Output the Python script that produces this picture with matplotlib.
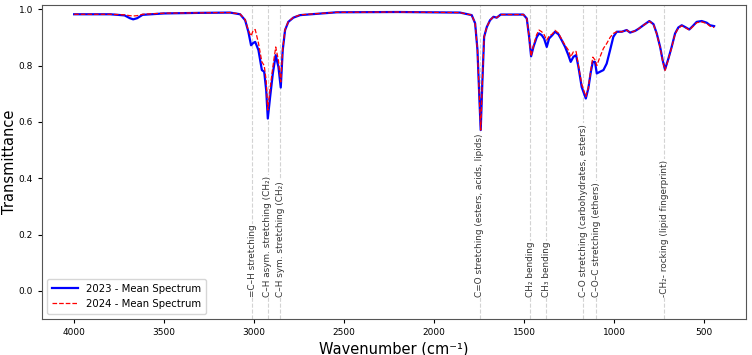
import matplotlib.pyplot as plt

# wavenumber grid (cm-1) and mean transmittance for each year
wavenumber = [4000, 3800, 3720, 3690, 3672, 3650, 3620, 3500, 3300, 3133, 3078, 3050,
              3032, 3017, 3005, 2994, 2976, 2957, 2944, 2933, 2924, 2911, 2896, 2880,
              2865, 2852, 2841, 2828, 2810, 2782, 2744, 2541, 2200, 1856, 1791, 1772,
              1759, 1748, 1741, 1732, 1722, 1707, 1689, 1670, 1652, 1630, 1504, 1485,
              1472, 1461, 1448, 1430, 1417, 1402, 1389, 1374, 1361, 1343, 1328, 1309,
              1291, 1272, 1254, 1241, 1226, 1211, 1198, 1180, 1157, 1143, 1129, 1118,
              1106, 1096, 1078, 1059, 1041, 1022, 1004, 985, 957, 930, 911, 883, 865,
              837, 804, 781, 763, 744, 730, 717, 698, 680, 661, 643, 624, 606, 582,
              563, 541, 513, 485, 467, 444]

t_2023 = [0.982, 0.982, 0.978, 0.968, 0.964, 0.968, 0.980, 0.985, 0.987, 0.988, 0.982, 0.961,
          0.920, 0.872, 0.880, 0.884, 0.855, 0.784, 0.778, 0.713, 0.612, 0.689, 0.772, 0.837,
          0.795, 0.722, 0.855, 0.926, 0.955, 0.970, 0.979, 0.989, 0.990, 0.988, 0.979, 0.950,
          0.855, 0.677, 0.571, 0.738, 0.902, 0.937, 0.961, 0.973, 0.970, 0.981, 0.981, 0.967,
          0.902, 0.833, 0.866, 0.900, 0.914, 0.908, 0.896, 0.866, 0.896, 0.908, 0.920, 0.911,
          0.890, 0.866, 0.837, 0.813, 0.831, 0.837, 0.795, 0.724, 0.683, 0.719, 0.778, 0.813,
          0.813, 0.772, 0.778, 0.784, 0.807, 0.855, 0.902, 0.920, 0.920, 0.926, 0.917, 0.923, 0.930,
          0.943, 0.958, 0.947, 0.914, 0.866, 0.819, 0.786, 0.825, 0.866, 0.914, 0.935, 0.943, 0.937, 0.928,
          0.940, 0.955, 0.958, 0.952, 0.943, 0.940]

t_2024 = [0.982, 0.982, 0.980, 0.977, 0.976, 0.977, 0.982, 0.986, 0.987, 0.988, 0.983, 0.963,
          0.925, 0.905, 0.925, 0.928, 0.880, 0.813, 0.800, 0.748, 0.642, 0.720, 0.795, 0.866,
          0.819, 0.742, 0.860, 0.928, 0.956, 0.971, 0.980, 0.989, 0.990, 0.988, 0.979, 0.950,
          0.855, 0.677, 0.571, 0.738, 0.902, 0.937, 0.961, 0.973, 0.970, 0.981, 0.981, 0.967,
          0.902, 0.833, 0.870, 0.910, 0.926, 0.920, 0.910, 0.890, 0.905, 0.912, 0.925, 0.915,
          0.893, 0.872, 0.855, 0.830, 0.849, 0.850, 0.800, 0.735, 0.690, 0.722, 0.785, 0.830,
          0.820, 0.800, 0.831, 0.861, 0.878, 0.900, 0.914, 0.920, 0.920, 0.926, 0.917, 0.923, 0.930,
          0.943, 0.957, 0.946, 0.912, 0.864, 0.816, 0.783, 0.822, 0.864, 0.912, 0.933, 0.941, 0.935, 0.926,
          0.938, 0.952, 0.955, 0.949, 0.940, 0.935]

band_pos = [3010, 2925, 2855, 1745, 1465, 1377, 1170, 1100, 720]
band_labels = ["=C–H stretching",
               "C–H asym. stretching (CH₂)",
               "C–H sym. stretching (CH₂)",
               "C=O stretching (esters, acids, lipids)",
               "CH₂ bending",
               "CH₃ bending",
               "C–O stretching (carbohydrates, esters)",
               "C–O–C stretching (ethers)",
               "-CH₂- rocking (lipid fingerprint)"]

fig = plt.figure(figsize=(7.52, 3.55), dpi=100)
ax = fig.add_axes([0.056, 0.101, 0.936, 0.885])

ax.plot(wavenumber, t_2023, color='blue', lw=1.6, label='2023 - Mean Spectrum')
ax.plot(wavenumber, t_2024, color='red', lw=0.9, ls='--', label='2024 - Mean Spectrum')

for pos, lab in zip(band_pos, band_labels):
    ax.axvline(pos, color='lightgray', ls='--', lw=0.8, zorder=0)
    ax.text(pos, -0.02, lab, rotation=90, ha='center', va='bottom', fontsize=6.4,
            color='#333333',
            bbox=dict(facecolor='white', edgecolor='none', pad=0.3))

ax.set_xlim(4178, 267)
ax.set_ylim(-0.1, 1.015)
ax.set_xticks([4000, 3500, 3000, 2500, 2000, 1500, 1000, 500])
ax.set_yticks([0.0, 0.2, 0.4, 0.6, 0.8, 1.0])
ax.tick_params(labelsize=6.5, length=3)
for s in ax.spines.values():
    s.set_color('#555555')

ax.set_xlabel('Wavenumber (cm⁻¹)', fontsize=10.5, labelpad=3)
ax.set_ylabel('Transmittance', fontsize=10.5, labelpad=1)
ax.legend(loc='lower left', fontsize=7.3, handlelength=2.5, borderpad=0.5)

fig.savefig('out.png', dpi=100)
